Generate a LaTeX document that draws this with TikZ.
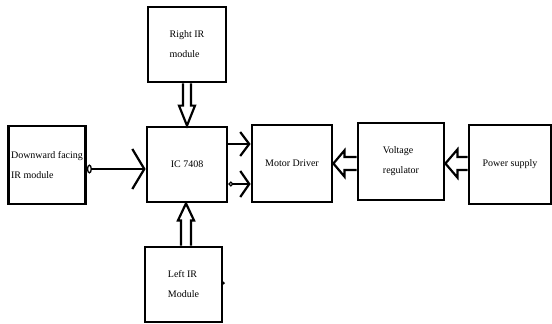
\documentclass[tikz,border=0pt]{standalone}
\usepackage{fontspec}
\setmainfont{Liberation Serif}
\usetikzlibrary{arrows.meta,calc}
\begin{document}
\begin{tikzpicture}[x=1pt,y=-1pt,
  box/.style={draw,line width=2.8pt,align=left,inner sep=0pt,
              font=\fontsize{10}{20}\selectfont},
  conn/.style={line width=2.2pt},
  barbsmall/.style={-{Straight Barb[length=9pt,width=24pt]}},
  blockarrow/.style={draw,line width=2.2pt,fill=white}
]
\useasboundingbox (0,0) rectangle (552,324);

% boxes
\node[box,minimum width=77pt,minimum height=78pt] (down) at (47,165) {Downward facing\\IR module};
\node[box,minimum width=78pt,minimum height=75pt] (right) at (187,44.5) {Right IR\\module};
\node[box,minimum width=80pt,minimum height=75pt] (ic) at (187,164.5) {IC 7408};
\node[box,minimum width=80pt,minimum height=77pt] (md) at (292,163.5) {Motor Driver};
\node[box,minimum width=86pt,minimum height=77pt] (vr) at (401,161.5) {Voltage\\regulator};
\node[box,minimum width=82pt,minimum height=79pt] (ps) at (510,164.5) {Power supply};
\node[box,minimum width=77pt,minimum height=75pt] (left) at (183.5,284.5) {Left IR\\Module};

% small dot on Left IR box edge
\fill (left.east |- 0,283) circle (1.6pt);

% Downward -> IC
\draw[conn,{Circle[open,length=5pt,width=9pt,line width=1.3pt]}-{Straight Barb[length=12pt,width=40pt]}]
  (down.east |- 0,169) -- (ic.west |- 0,169);

% IC -> Motor driver (two lines)
\draw[conn,barbsmall] (ic.east |- 0,144) -- (md.west |- 0,144);
\draw[conn,{Circle[open,length=5pt,width=5pt,line width=1.3pt]}-{Straight Barb[length=9pt,width=26pt]}]
  (ic.east |- 0,184) -- (md.west |- 0,184);

% Voltage regulator -> Motor driver (block arrow)
\coordinate (t1) at (md.east |- 0,163.5);
\coordinate (s1) at (vr.west |- 0,163.5);
\draw[blockarrow] ($(s1)+(0,-6.5)$) -- ($(t1)+(11,-6.5)$) -- ($(t1)+(11,-13)$) -- (t1)
  -- ($(t1)+(11,13)$) -- ($(t1)+(11,6.5)$) -- ($(s1)+(0,6.5)$);

% Power supply -> Voltage regulator (block arrow)
\coordinate (t2) at (vr.east |- 0,163.5);
\coordinate (s2) at (ps.west |- 0,163.5);
\draw[blockarrow] ($(s2)+(0,-6.5)$) -- ($(t2)+(12,-6.5)$) -- ($(t2)+(12,-14)$) -- (t2)
  -- ($(t2)+(12,14)$) -- ($(t2)+(12,6.5)$) -- ($(s2)+(0,6.5)$);

% Right IR -> IC (block arrow, downward)
\coordinate (t3) at (ic.north);
\coordinate (s3) at (right.south);
\draw[blockarrow] ($(s3)+(-4,0)$) -- ($(t3)+(-4,-20)$) -- ($(t3)+(-8,-20)$) -- (t3)
  -- ($(t3)+(8,-20)$) -- ($(t3)+(4,-20)$) -- ($(s3)+(4,0)$);

% Left IR -> IC (block arrow, upward)
\coordinate (t4) at (ic.south -| 186,0);
\coordinate (s4) at (left.north -| 186,0);
\draw[blockarrow] ($(s4)+(-5,0)$) -- ($(t4)+(-5,17)$) -- ($(t4)+(-8,17)$) -- (t4)
  -- ($(t4)+(8,17)$) -- ($(t4)+(5,17)$) -- ($(s4)+(5,0)$);
\end{tikzpicture}
\end{document}
